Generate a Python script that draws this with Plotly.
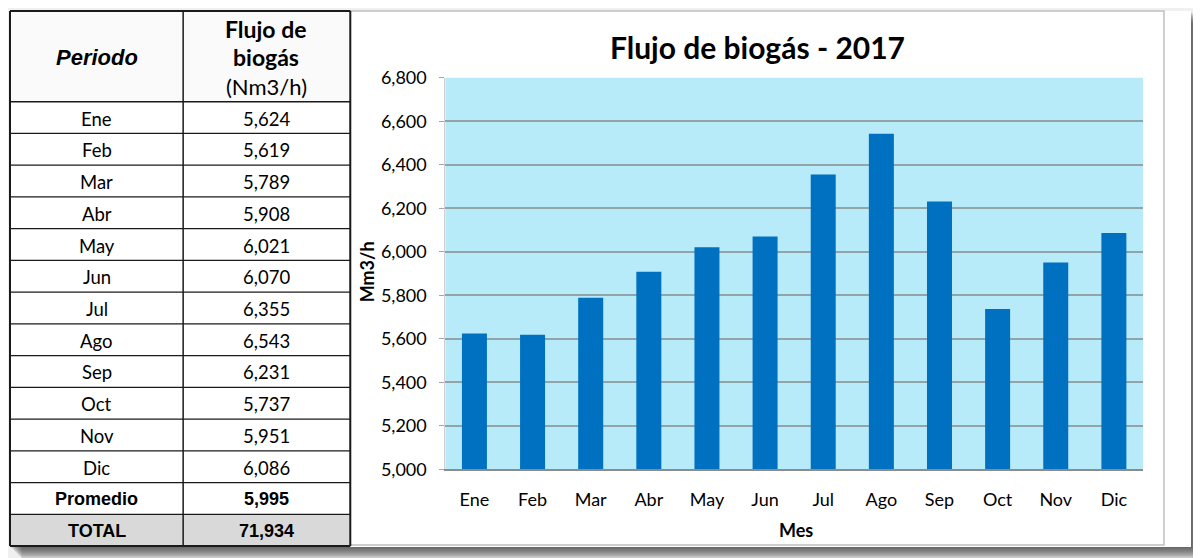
import plotly.graph_objects as go

W, H = 1201, 558

meses = ["Ene", "Feb", "Mar", "Abr", "May", "Jun", "Jul", "Ago", "Sep", "Oct", "Nov", "Dic"]
flujo = [5624, 5619, 5789, 5908, 6021, 6070, 6355, 6543, 6231, 5737, 5951, 6086]
y_ticks = list(range(5000, 6801, 200))

BAR = "#0070C0"
PLOT_BG = "#B7EBFA"
GRID = "#93A4A9"
CAL = "Lato"
ARIAL = "Liberation Sans"


# pixel -> paper (the plot area measured from a rendered test page)
def px_x(p):
    return (p - 8) / 1200


def px_y(p):
    return 1 - (p - 19) / 538


total = sum(flujo)
promedio = int(total / len(flujo) + 0.5)

# table rows built from the data
rows = [(m, f"{v:,}") for m, v in zip(meses, flujo)]
rows += [("<b>Promedio</b>", f"<b>{promedio:,}</b>"), ("<b>TOTAL</b>", f"<b>{total:,}</b>")]

fig = go.Figure()
fig.add_trace(go.Bar(
    x=meses, y=flujo,
    marker=dict(color=BAR, line=dict(width=0)),
    width=0.43,
    hoverinfo="x+y",
))

shapes = []
annotations = []


def rect(x0, y0, x1, y1, fill, line=None, layer="below"):
    shapes.append(dict(type="rect", xref="paper", yref="paper", layer=layer,
                       x0=px_x(x0), x1=px_x(x1), y0=px_y(y1), y1=px_y(y0),
                       fillcolor=fill, line=line or dict(width=0)))


def hline(x0, x1, y, color="#1a1a1a", width=1.5):
    shapes.append(dict(type="line", xref="paper", yref="paper", layer="above",
                       x0=px_x(x0), x1=px_x(x1), y0=px_y(y), y1=px_y(y),
                       line=dict(color=color, width=width)))


def vline(x, y0, y1, color="#1a1a1a", width=1.5):
    shapes.append(dict(type="line", xref="paper", yref="paper", layer="above",
                       x0=px_x(x), x1=px_x(x), y0=px_y(y0), y1=px_y(y1),
                       line=dict(color=color, width=width)))


def label(text, x, y, family, size, angle=0):
    annotations.append(dict(text=text, x=px_x(x), y=px_y(y), xref="paper", yref="paper",
                            showarrow=False, textangle=angle,
                            xanchor="center", yanchor="middle",
                            font=dict(family=family, size=size, color="black")))


# page shadow + white sheet
for k in range(1, 13):
    rect(10 + k, 10 + k, 1190 + k, 548 + k, "rgba(60,60,60,0.10)")
rect(10, 10, 1190, 548, "white")
# chart frame
rect(350, 10, 1163, 546, "white", dict(color="#BFBFBF", width=1.5))
# plot background (drawn as a shape so the frame does not hide it)
shapes.append(dict(type="rect", xref="x domain", yref="y domain", layer="below",
                   x0=0, x1=1, y0=0, y1=1, fillcolor=PLOT_BG, line=dict(width=0)))

# table
TX0, TXM, TX1 = 10, 183, 350
TOP, HEAD = 10, 101
RH = (547 - HEAD) / len(rows)
rect(TX0, TOP, TX1, HEAD, "#FAFAFA")
rect(TX0, HEAD + RH * (len(rows) - 1), TX1, 547, "#D9D9D9")
hline(TX0, TX1, TOP, width=2)
hline(TX0, TX1, HEAD, width=1.5)
for i, (per, val) in enumerate(rows):
    yc = HEAD + RH * (i + 0.5) + 1
    bold = per.startswith("<b>")
    fam = ARIAL if bold else CAL
    size = 18 if bold else 18.5
    label(per, (TX0 + TXM) / 2, yc, fam, size)
    label(val, (TXM + TX1) / 2, yc, fam, size)
    hline(TX0, TX1, HEAD + RH * (i + 1), width=2 if i == len(rows) - 1 else 1.3)
vline(TX0, TOP, 547, width=2)
vline(TXM, TOP, 547, width=1.5)
vline(TX1, TOP, 547, width=2)

label("<b><i>Periodo</i></b>", 97, 57, ARIAL, 22)
label("<b>Flujo de</b>", 266, 28, CAL, 23)
label("<b>biogás</b>", 266, 56, CAL, 23)
label("(Nm3/h)", 266, 86, CAL, 22)

# chart texts
label("<b>Flujo de biogás - 2017</b>", 757, 46, CAL, 30)
label("<b>Mes</b>", 795, 531, CAL, 18)
label("<b>Mm3/h</b>", 367, 272, CAL, 18, angle=-90)

fig.update_layout(
    width=W, height=H,
    margin=dict(l=0, r=0, t=0, b=0),
    paper_bgcolor="#F0F0F0",
    plot_bgcolor=PLOT_BG,
    showlegend=False,
    xaxis=dict(domain=[px_x(445), px_x(1142)], anchor="y",
               showgrid=False, showline=True, linecolor="#8C8C8C", linewidth=1.5,
               ticks="", ticklabelstandoff=13,
               tickfont=dict(family=CAL, size=18, color="black")),
    yaxis=dict(domain=[px_y(470), px_y(77)], anchor="x",
               range=[5000, 6800], tickvals=y_ticks, tickformat=",",
               showgrid=True, gridcolor=GRID, gridwidth=1.5,
               showline=True, linecolor="#D0D0D0", linewidth=1,
               ticks="outside", ticklen=5, tickcolor="#A6A6A6",
               ticklabelstandoff=9,
               tickfont=dict(family=CAL, size=18, color="black"),
               zeroline=False),
    shapes=shapes,
    annotations=annotations,
)

fig.write_html("out.html")
